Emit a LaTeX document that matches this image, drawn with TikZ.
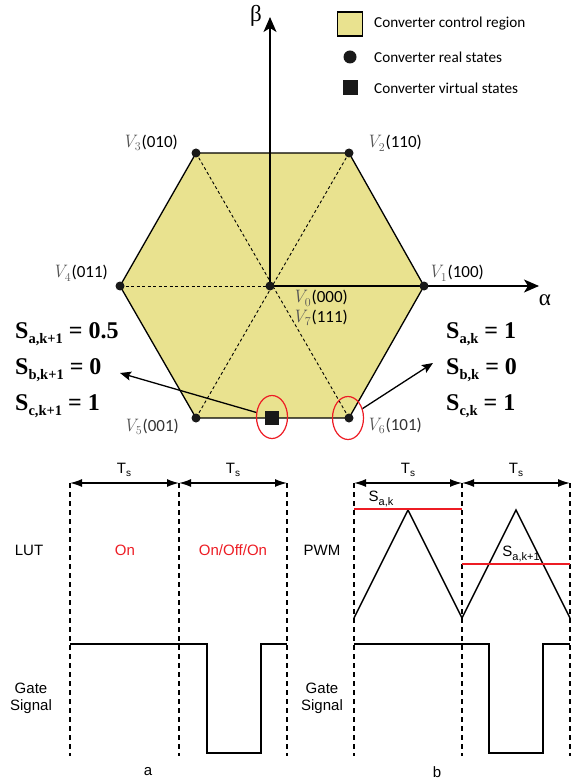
\documentclass[tikz,border=0pt]{standalone}
\usepackage{fontspec}
\setmainfont{Liberation Serif}
\newfontfamily\arialf{Liberation Sans}
\newfontfamily\myriadf{Carlito}
\newfontfamily\lmf{Latin Modern Roman}
\usetikzlibrary{arrows.meta,shapes.geometric}
\definecolor{hexfill}{RGB}{233,226,143}
\definecolor{redc}{RGB}{237,28,36}
\definecolor{vgray}{RGB}{85,85,85}
\newcommand{\Vl}[2]{\textcolor{vgray}{\lmf\itshape\fontsize{18}{18}\selectfont V\kern-0.5pt\raisebox{-0.2em}{\upshape\fontsize{12}{12}\selectfont #1}}\kern1pt{\myriadf #2}}
\begin{document}
\begin{tikzpicture}[x=1pt,y=-1pt,
  hexedge/.style={line width=1.3pt,line join=round},
  innerdash/.style={line width=0.9pt,dash pattern=on 3pt off 2.5pt},
  axisline/.style={line width=1.2pt,-{Stealth[length=15pt,width=13pt,inset=4pt]}},
  dot/.style={circle,fill=black!90,minimum size=9pt,inner sep=0pt},
  vlabel/.style={anchor=west,inner sep=0pt,font=\fontsize{17}{18}\selectfont},
  legtext/.style={anchor=west,inner sep=0pt,font=\myriadf\fontsize{15.2}{16}\selectfont},
  redell/.style={ellipse,draw=redc,line width=1.2pt,minimum width=31pt,minimum height=43pt,inner sep=0pt},
  ptr/.style={line width=1.3pt,-{Stealth[length=11pt,width=9pt,inset=2pt]}},
  boldlab/.style={anchor=base west,inner sep=0pt,font=\bfseries\fontsize{24}{24}\selectfont},
  tsep/.style={line width=1.4pt,dash pattern=on 5pt off 4pt},
  tsarrow/.style={line width=1.4pt,{Latex[length=12pt,width=8pt]}-{Latex[length=12pt,width=8pt]}},
  sig/.style={line width=1.5pt,line join=miter},
  redline/.style={line width=1.5pt,redc},
  btext/.style={inner sep=0pt,font=\arialf\fontsize{15}{17}\selectfont,align=center}
]
\useasboundingbox (0,0) rectangle (580,783);

% ---------- hexagon coordinates
\coordinate (c0) at (270,286);
\coordinate (c1) at (424,286);
\coordinate (c2) at (349,153);
\coordinate (c3) at (196,153);
\coordinate (c4) at (120,286);
\coordinate (c5) at (196,418);
\coordinate (c6) at (349,418);
\coordinate (alphaend) at (539,286);
\coordinate (betaend) at (270,17);

\fill[hexfill] (c1) -- (c2) -- (c3) -- (c4) -- (c5) -- (c6) -- cycle;
\draw[innerdash] (c4) -- (c0);
\draw[innerdash] (c3) -- (c6);
\draw[innerdash] (c2) -- (c5);
\draw[axisline] (c0) -- (alphaend);
\draw[axisline] (c0) -- (betaend);
\draw[hexedge] (c1) -- (c2) -- (c3) -- (c4) -- (c5) -- (c6) -- cycle;

\node[dot] (v0) at (c0) {};
\node[dot] (v1) at (c1) {};
\node[dot] (v2) at (c2) {};
\node[dot] (v3) at (c3) {};
\node[dot] (v4) at (c4) {};
\node[dot] (v5) at (c5) {};
\node[dot] (v6) at (c6) {};

\node[inner sep=0pt,font=\fontsize{23}{23}\selectfont] (beta) at (256,16) {β};
\node[inner sep=0pt,font=\fontsize{23}{23}\selectfont] (alpha) at (545,300) {α};

% vertex labels
\node[vlabel] (l3) at (122,143) {\Vl{3}{(010)}};
\node[vlabel] (l2) at (366,143) {\Vl{2}{(110)}};
\node[vlabel] (l1) at (428,273) {\Vl{1}{(100)}};
\node[vlabel] (l4) at (52,273) {\Vl{4}{(011)}};
\node[vlabel] (l0) at (292,298.5) {\Vl{0}{(000)}};
\node[vlabel] (l7) at (292,318) {\Vl{7}{(111)}};
\node[vlabel,text=black!80] (l5) at (123,427) {\Vl{5}{(001)}};
\node[vlabel,text=black!80] (l6) at (366,426) {\Vl{6}{(101)}};

% virtual state and circles
\node[fill=black!90,minimum size=14pt,inner sep=0pt] (vs) at (272,418) {};
\node[redell] (e1) at (272,417) {};
\node[redell] (e2) at (348,418) {};

\coordinate (ltip) at (120,373);
\coordinate (rtip) at (433,363);
\draw[ptr] (e1) -- (ltip);
\draw[ptr] (e2) -- (rtip);

% bold labels
\newcommand{\subsc}[1]{\raisebox{-0.22em}{\fontsize{14.5}{14.5}\selectfont #1}}
\node[boldlab] (sl1) at (15,338) {S\subsc{a,k+1} = 0.5};
\node[boldlab] (sl2) at (15,374) {S\subsc{b,k+1} = 0};
\node[boldlab] (sl3) at (15,410) {S\subsc{c,k+1} = 1};
\node[boldlab] (sr1) at (446,338) {S\subsc{a,k} = 1};
\node[boldlab] (sr2) at (446,374) {S\subsc{b,k} = 0};
\node[boldlab] (sr3) at (446,410) {S\subsc{c,k} = 1};

% legend
\node[fill=hexfill,draw=black,line width=1.1pt,minimum width=25pt,minimum height=24pt,inner sep=0pt] (lg1) at (350,24) {};
\node[circle,fill=black!90,minimum size=13pt,inner sep=0pt] (lg2) at (350,57) {};
\node[fill=black!90,minimum size=15pt,inner sep=0pt] (lg3) at (350,88) {};
\node[legtext] (lt1) at (374,24) {Converter control region};
\node[legtext] (lt2) at (374,57) {Converter real states};
\node[legtext] (lt3) at (374,88) {Converter virtual states};

% ---------- bottom diagrams
\newcommand{\Tsub}{T\raisebox{-0.25em}{\fontsize{10}{10}\selectfont s}}
\newcommand{\Ssub}[1]{S\raisebox{-0.25em}{\fontsize{11}{11}\selectfont #1}}
% (a)
\coordinate (a0t) at (70,483);  \coordinate (a0b) at (70,756);
\coordinate (a1t) at (179,483); \coordinate (a1b) at (179,756);
\coordinate (a2t) at (287,483); \coordinate (a2b) at (287,756);
\draw[tsep] (a0t) -- (a0b);
\draw[tsep] (a1t) -- (a1b);
\draw[tsep] (a2t) -- (a2b);
\draw[tsarrow] (a0t) -- (a1t);
\draw[tsarrow] (a1t) -- (a2t);
\node[btext] (ats1) at (124,470) {\Tsub};
\node[btext] (ats2) at (233,470) {\Tsub};
\node[btext] (lut) at (29,550) {LUT};
\node[btext,text=redc] (on) at (125,550) {On};
\node[btext,text=redc] (onoff) at (233,550) {On/Off/On};
\coordinate (ag0) at (70,644);
\coordinate (ag1) at (207,644);
\coordinate (ag2) at (207,753);
\coordinate (ag3) at (261,753);
\coordinate (ag4) at (261,644);
\coordinate (ag5) at (287,644);
\draw[sig] (ag0) -- (ag1) -- (ag2) -- (ag3) -- (ag4) -- (ag5);
\node[btext] (agate) at (31,698) {Gate\\Signal};
\node[btext] (alab) at (148,772) {a};

% (b)
\coordinate (b0t) at (354,483);  \coordinate (b0b) at (354,756);
\coordinate (b1t) at (462,483);  \coordinate (b1b) at (462,756);
\coordinate (b2t) at (570,483);  \coordinate (b2b) at (570,756);
\draw[tsep] (b0t) -- (b0b);
\draw[tsep] (b1t) -- (b1b);
\draw[tsep] (b2t) -- (b2b);
\draw[tsarrow] (b0t) -- (b1t);
\draw[tsarrow] (b1t) -- (b2t);
\node[btext] (bts1) at (408,470) {\Tsub};
\node[btext] (bts2) at (516,470) {\Tsub};
\node[btext] (pwm) at (322,550) {PWM};
\coordinate (t0) at (354,618);
\coordinate (t1) at (408,510);
\coordinate (t2) at (462,618);
\coordinate (t3) at (516,510);
\coordinate (t4) at (570,618);
\draw[sig] (t0) -- (t1) -- (t2) -- (t3) -- (t4);
\coordinate (r1a) at (354,509); \coordinate (r1b) at (462,509);
\coordinate (r2a) at (462,564); \coordinate (r2b) at (570,564);
\draw[redline] (r1a) -- (r1b);
\draw[redline] (r2a) -- (r2b);
\node[btext] (sak) at (381,499) {\Ssub{a,k}};
\node[btext] (sak1) at (521,554) {\Ssub{a,k+1}};
\coordinate (bg0) at (354,644);
\coordinate (bg1) at (489,644);
\coordinate (bg2) at (489,753);
\coordinate (bg3) at (543,753);
\coordinate (bg4) at (543,644);
\coordinate (bg5) at (570,644);
\draw[sig] (bg0) -- (bg1) -- (bg2) -- (bg3) -- (bg4) -- (bg5);
\node[btext] (bgate) at (322,698) {Gate\\Signal};
\node[btext] (blab) at (437,772) {b};
\end{tikzpicture}
\end{document}
